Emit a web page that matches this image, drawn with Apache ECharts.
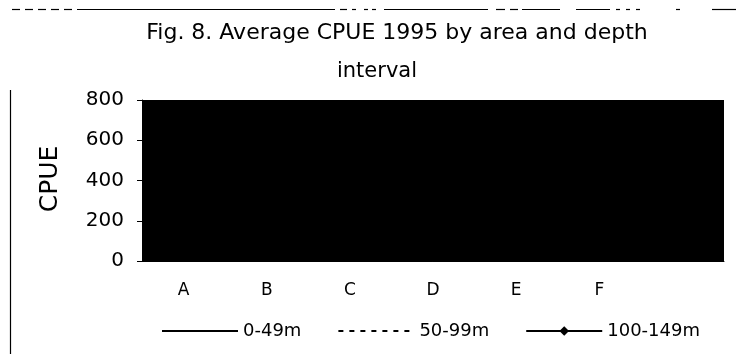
<!DOCTYPE html>
<html>
<head>
<meta charset="utf-8">
<script src="https://cdn.jsdelivr.net/npm/echarts@6/dist/echarts.min.js"></script>
<style>
  html, body { margin: 0; padding: 0; background: #fff; }
  #chart { width: 736px; height: 354px; }
</style>
</head>
<body>
<div id="chart"></div>
<script>
// Average CPUE in 1995 per fishing area, one line per depth interval
const areas = ['A', 'B', 'C', 'D', 'E', 'F', ''];
const cpue0to49 = [120, 60, 150, 90, 70, 180, null];
const cpue50to99 = [300, 180, 260, 350, 240, 420, null];
const cpue100to149 = [450, 380, 520, 610, 480, 560, null];
const yTicks = [0, 200, 400, 600, 800];

const FONT = '"DejaVu Sans", "Liberation Sans", Arial, sans-serif';

// Page frame: broken dashed rule along the top, rule down the left side
const topRule = [
  [12, 20], [25, 33], [38, 46], [51, 59], [64, 72], [77, 335], [340, 347],
  [352, 356], [364, 368], [372, 376], [384, 488], [496, 505], [510, 518],
  [522, 560], [576, 610], [616, 620], [626, 630], [636, 640], [676, 680],
  [712, 736]
];
const frame = topRule.map(function (s) {
  return {
    type: 'line', silent: true,
    shape: { x1: s[0], y1: 9.5, x2: s[1], y2: 9.5 },
    style: { stroke: '#000', lineWidth: 1.2 }
  };
});
frame.push({
  type: 'line', silent: true,
  shape: { x1: 10.5, y1: 90, x2: 10.5, y2: 354 },
  style: { stroke: '#000', lineWidth: 1.2 }
});

const chart = echarts.init(document.getElementById('chart'), null, { renderer: 'canvas' });
chart.setOption({
  animation: false,
  backgroundColor: '#fff',
  textStyle: { fontFamily: FONT, color: '#000' },
  graphic: frame.concat([
    {
      type: 'text', silent: true,
      style: {
        text: 'Fig. 8. Average CPUE 1995 by area and depth',
        x: 397, y: 33, align: 'center', verticalAlign: 'middle',
        font: '22px ' + FONT, fill: '#000'
      }
    },
    {
      type: 'text', silent: true,
      style: {
        text: 'interval',
        x: 377, y: 72, align: 'center', verticalAlign: 'middle',
        font: '21px ' + FONT, fill: '#000'
      }
    },
    {
      type: 'text', silent: true, rotation: Math.PI / 2,
      x: 50, y: 179,
      style: {
        text: 'CPUE', x: 0, y: 0, align: 'center', verticalAlign: 'middle',
        font: '25px ' + FONT, fill: '#000'
      }
    }
  ]),
  grid: {
    left: 142, right: 12, top: 100, bottom: 93,
    show: true, backgroundColor: '#000', borderWidth: 0
  },
  legend: {
    left: 156, top: 317,
    itemWidth: 76, itemHeight: 12, itemGap: 36,
    textStyle: { fontFamily: FONT, fontSize: 18, color: '#000' },
    data: [
      { name: '0-49m', itemStyle: { opacity: 0 } },
      { name: '50-99m', itemStyle: { opacity: 0 } },
      { name: '100-149m' }
    ]
  },
  xAxis: {
    type: 'category',
    data: areas,
    boundaryGap: true,
    axisLine: { show: true, lineStyle: { color: '#000', width: 1 } },
    axisTick: { show: false },
    axisLabel: { fontFamily: FONT, fontSize: 17, color: '#000', margin: 21 },
    splitLine: { show: false }
  },
  yAxis: {
    type: 'value',
    min: yTicks[0], max: yTicks[yTicks.length - 1], interval: 200,
    axisLine: { show: true, lineStyle: { color: '#000', width: 1 } },
    axisTick: { show: true, length: 5, lineStyle: { color: '#000' } },
    axisLabel: { fontFamily: FONT, fontSize: 20, color: '#000', margin: 18 },
    splitLine: { show: false }
  },
  series: [
    {
      name: '0-49m', type: 'line', data: cpue0to49,
      symbol: 'none', color: '#000',
      lineStyle: { color: '#000', width: 1.5, type: 'solid' }
    },
    {
      name: '50-99m', type: 'line', data: cpue50to99,
      symbol: 'none', color: '#000',
      lineStyle: { color: '#000', width: 1.5, type: [5, 6] }
    },
    {
      name: '100-149m', type: 'line', data: cpue100to149,
      symbol: 'diamond', symbolSize: 7, color: '#000',
      itemStyle: { color: '#000' },
      lineStyle: { color: '#000', width: 1.5, type: 'solid' }
    }
  ]
});
</script>
</body>
</html>
